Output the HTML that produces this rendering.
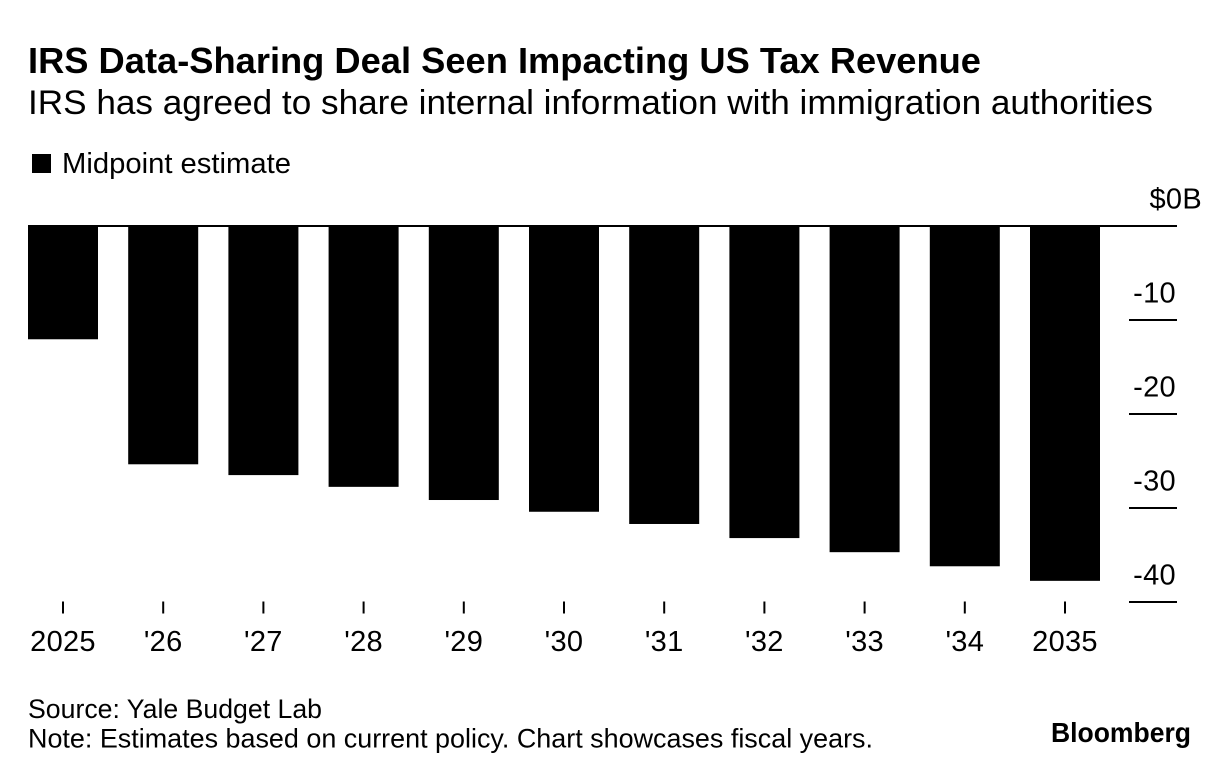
<!DOCTYPE html>
<html lang="en">
<head>
<meta charset="utf-8">
<title>IRS Data-Sharing Deal Seen Impacting US Tax Revenue</title>
<style>
  html, body { margin: 0; padding: 0; background: #fff; }
  body { width: 1230px; height: 778px; overflow: hidden; }
  svg { display: block; }
  text { font-family: "Liberation Sans", sans-serif; fill: #000; }
  .axis-label { font-size: 29px; letter-spacing: 0.3px; }
  .note { font-size: 27px; }
</style>
</head>
<body>
<svg id="chart" width="1230" height="778" viewBox="0 0 1230 778" xmlns="http://www.w3.org/2000/svg">
  <rect x="0" y="0" width="1230" height="778" fill="#fff"/>
  <text x="28" y="73" font-size="36" font-weight="700" textLength="953" lengthAdjust="spacingAndGlyphs">IRS Data-Sharing Deal Seen Impacting US Tax Revenue</text>
  <text x="28" y="114" font-size="34" textLength="1125" lengthAdjust="spacingAndGlyphs">IRS has agreed to share internal information with immigration authorities</text>
  <rect x="32" y="154" width="19" height="19" fill="#000"/>
  <text x="62" y="173" font-size="29" textLength="229" lengthAdjust="spacingAndGlyphs">Midpoint estimate</text>
  <g id="bars"></g>
  <g id="x-axis"></g>
  <g id="y-axis"></g>
  <text class="note" x="28" y="718" textLength="294" lengthAdjust="spacingAndGlyphs">Source: Yale Budget Lab</text>
  <text class="note" x="28" y="747.5" textLength="845" lengthAdjust="spacingAndGlyphs">Note: Estimates based on current policy. Chart showcases fiscal years.</text>
  <text x="1051" y="742" font-size="28" font-weight="700" textLength="140" lengthAdjust="spacingAndGlyphs">Bloomberg</text>
</svg>
<script>
const categories = ["2025", "'26", "'27", "'28", "'29", "'30", "'31", "'32", "'33", "'34", "2035"];
const midpointEstimate = [-12.05, -25.35, -26.5, -27.75, -29.15, -30.4, -31.7, -33.2, -34.7, -36.2, -37.75];
const yTicks = [0, -10, -20, -30, -40];
const yTickLabels = ["$0B", "-10", "-20", "-30", "-40"];

const SVG_NS = "http://www.w3.org/2000/svg";
const barWidth = 70;
function xCenter(i) { return 63 + i * 100.2; }
function yScale(v) { return 226 - v * 9.4; }

function make(tag, attrs, parent) {
  const el = document.createElementNS(SVG_NS, tag);
  for (const k in attrs) el.setAttribute(k, attrs[k]);
  parent.appendChild(el);
  return el;
}

const barsGroup = document.getElementById("bars");
const xGroup = document.getElementById("x-axis");
const yGroup = document.getElementById("y-axis");

midpointEstimate.forEach(function (v, i) {
  const top = Math.min(yScale(0), yScale(v));
  const bar = make("rect", { x: xCenter(i) - barWidth / 2, y: top, width: barWidth, height: Math.abs(yScale(v) - yScale(0)), fill: "#000" }, barsGroup);
  
  
});

categories.forEach(function (c, i) {
  const tick = make("line", { x1: xCenter(i), x2: xCenter(i), y1: 601.5, y2: 613.5, stroke: "#000", "stroke-width": 2 }, xGroup);
  
  
  const label = make("text", { x: xCenter(i), y: 651, "text-anchor": "middle", class: "axis-label" }, xGroup);
  label.textContent = c;
  
  
});

const baseline = make("line", { x1: 28, x2: 1177, y1: yScale(0), y2: yScale(0), stroke: "#000", "stroke-width": 2 }, yGroup);



yTicks.forEach(function (t, i) {
  const y = yScale(t);
  const tick = make("line", { x1: 1129, x2: 1177, y1: y, y2: y, stroke: "#000", "stroke-width": 2 }, yGroup);
  
  
  const label = make("text", { x: t === 0 ? 1202 : 1176, y: y - 17.5, "text-anchor": "end", class: "axis-label", "letter-spacing": t === 0 ? 2 : 0 }, yGroup);
  label.textContent = yTickLabels[i];
  
  
});
</script>
</body>
</html>
